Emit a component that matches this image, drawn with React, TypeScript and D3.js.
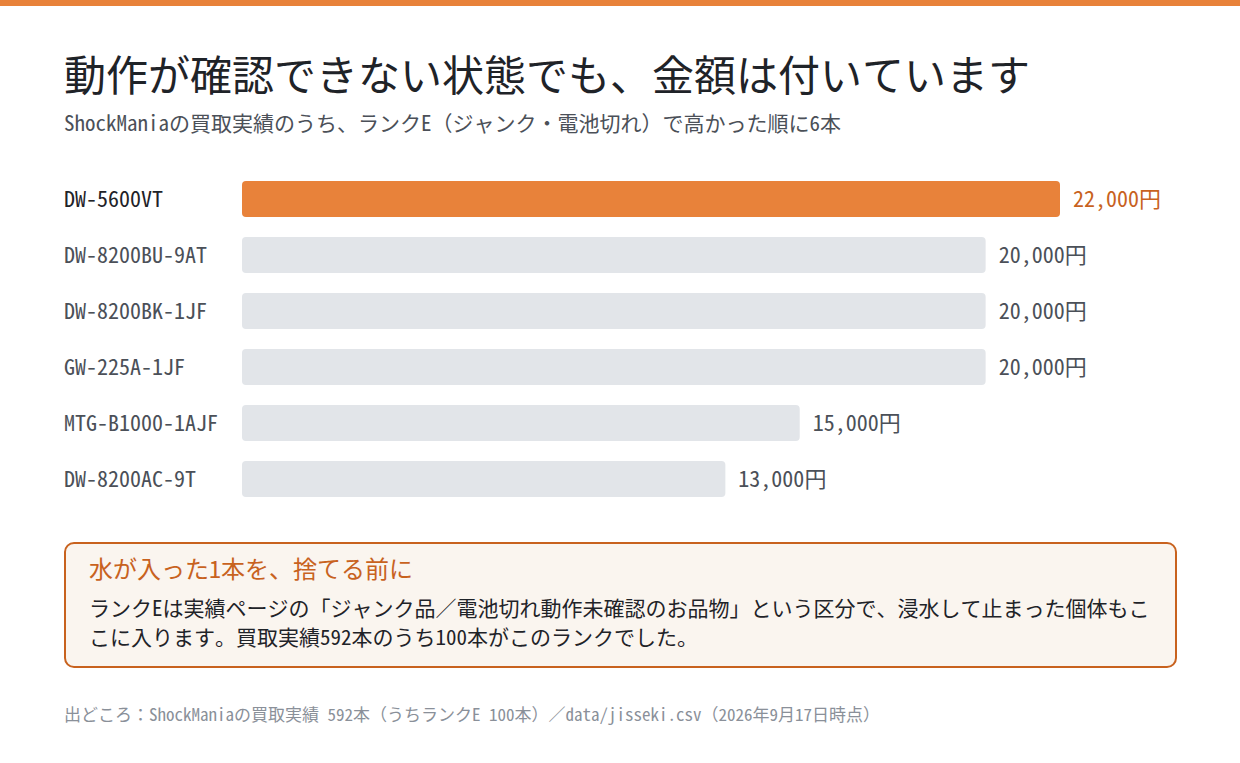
import { useMemo } from "react";
import * as d3 from "d3";

// Rank E (junk / dead battery) buy prices, highest first
const MODELS = [
  "DW-5600VT",
  "DW-8200BU-9AT",
  "DW-8200BK-1JF",
  "GW-225A-1JF",
  "MTG-B1000-1AJF",
  "DW-8200AC-9T",
];
const PRICES = [22000, 20000, 20000, 20000, 15000, 13000];
const HIGHLIGHT = "DW-5600VT";

const TITLE = "動作が確認できない状態でも、金額は付いています";
const SUBTITLE =
  "ShockManiaの買取実績のうち、ランクE（ジャンク・電池切れ）で高かった順に6本";
const NOTE_TITLE = "水が入った1本を、捨てる前に";
const NOTE_LINES = [
  "ランクEは実績ページの「ジャンク品／電池切れ動作未確認のお品物」という区分で、浸水して止まった個体もこ",
  "こに入ります。買取実績592本のうち100本がこのランクでした。",
];
const SOURCE =
  "出どころ：ShockManiaの買取実績 592本（うちランクE 100本）／data/jisseki.csv（2026年9月17日時点）";

const W = 1240;
const H = 763;
const FONT = "'Noto Sans Mono CJK JP', 'Noto Sans CJK JP', monospace";

const ORANGE = "#e8823a";
const ORANGE_DARK = "#c8621e";
const GRAY_BAR = "#e2e5e9";
const TEXT_DARK = "#1f2328";
const TEXT_MID = "#4b5058";
const TEXT_MUTED = "#8a9099";

export default function App() {
  const rows = useMemo(
    () => MODELS.map((m, i) => ({ model: m, price: PRICES[i] })),
    []
  );

  const x = d3
    .scaleLinear()
    .domain([0, d3.max(PRICES) as number])
    .range([242, 1060]);

  const y = d3
    .scaleBand<string>()
    .domain(MODELS)
    .range([171, 507])
    .paddingInner(20 / 56)
    .paddingOuter(10 / 56);

  const fmt = d3.format(",");

  return (
    <svg
      width={W}
      height={H}
      viewBox={`0 0 ${W} ${H}`}
      style={{ position: "fixed", top: 0, left: 0, display: "block", background: "#fff" }}
      fontFamily={FONT}
      fontWeight={300}
    >
      <rect x={0} y={0} width={W} height={6} fill={ORANGE} />

      <text x={64} y={72} fontSize={42} fill={TEXT_DARK} dominantBaseline="central">
        {TITLE}
      </text>
      <text x={64} y={122} fontSize={21} fill={TEXT_MID} dominantBaseline="central">
        {SUBTITLE}
      </text>

      {/* Bars */}
      {rows.map((d) => {
        const hi = d.model === HIGHLIGHT;
        const y0 = y(d.model) as number;
        const bw = y.bandwidth();
        const cy = y0 + bw / 2 - 2;
        return (
          <g key={d.model}>
            <text
              x={64}
              y={cy}
              fontSize={22}
              fill={hi ? TEXT_DARK : TEXT_MID}
              dominantBaseline="central"
            >
              {d.model}
            </text>
            <rect
              x={x(0)}
              y={y0}
              width={x(d.price) - x(0)}
              height={bw}
              rx={4}
              fill={hi ? ORANGE : GRAY_BAR}
            />
            <text
              x={x(d.price) + 13}
              y={cy}
              fontSize={22}
              fill={hi ? ORANGE_DARK : TEXT_MID}
              dominantBaseline="central"
            >
              {fmt(d.price)}円
            </text>
          </g>
        );
      })}

      {/* Callout */}
      <rect
        x={65}
        y={543}
        width={1111}
        height={124}
        rx={9}
        fill="#faf5ef"
        stroke={ORANGE_DARK}
        strokeWidth={2}
      />
      <text x={89} y={567} fontSize={24} fill={ORANGE_DARK} dominantBaseline="central">
        {NOTE_TITLE}
      </text>
      {NOTE_LINES.map((line, i) => (
        <text
          key={i}
          x={89}
          y={607 + i * 29}
          fontSize={21}
          fill={TEXT_DARK}
          dominantBaseline="central"
        >
          {line}
        </text>
      ))}

      <text x={64} y={713} fontSize={17} fill={TEXT_MUTED} dominantBaseline="central">
        {SOURCE}
      </text>
    </svg>
  );
}
